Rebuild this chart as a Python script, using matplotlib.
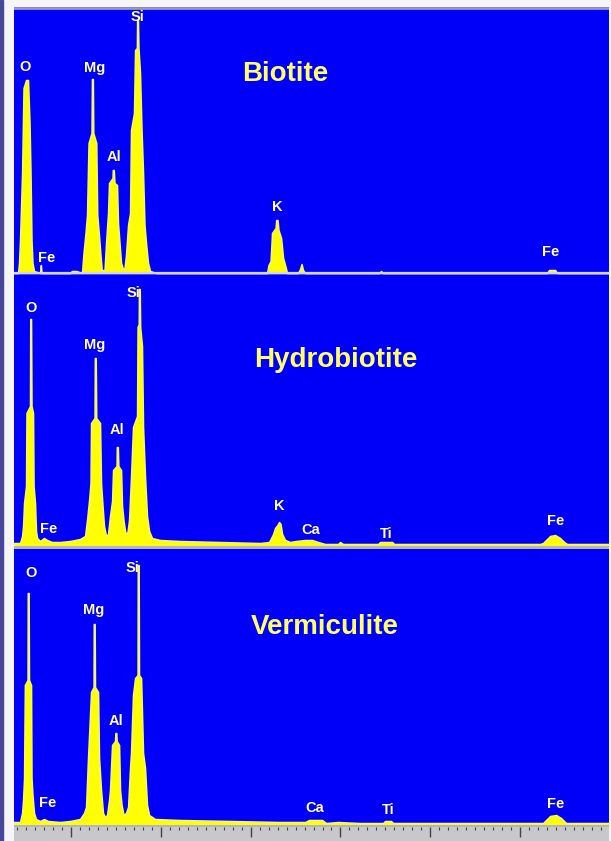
import matplotlib
matplotlib.use("Agg")
import matplotlib.pyplot as plt
from matplotlib.ticker import MultipleLocator
from matplotlib.patches import Rectangle

# EDS spectra, energy in keV, counts in arbitrary units
biotite = [
    (0.365, 0), (0.410, 0), (0.421, 10), (0.432, 33), (0.455, 100), (0.471, 185),
    (0.499, 193), (0.521, 193), (0.538, 150), (0.549, 100), (0.560, 33), (0.571, 10),
    (0.588, 2), (0.655, 0), (0.664, 8), (0.672, 0), (0.990, 0), (1.010, 2), (1.060, 2),
    (1.122, 0), (1.139, 20), (1.161, 40), (1.178, 58), (1.195, 130), (1.228, 140),
    (1.233, 194), (1.243, 194), (1.248, 140), (1.281, 130), (1.292, 58), (1.309, 40),
    (1.326, 20), (1.342, 3), (1.373, 3), (1.390, 30), (1.412, 60), (1.423, 90),
    (1.462, 95), (1.465, 103), (1.476, 103), (1.484, 90), (1.512, 88), (1.523, 50),
    (1.540, 30), (1.557, 10), (1.579, 4), (1.596, 5), (1.612, 18), (1.635, 48),
    (1.657, 60), (1.668, 143), (1.701, 160), (1.713, 223), (1.733, 225), (1.736, 253),
    (1.745, 253), (1.751, 225), (1.768, 200), (1.785, 143), (1.802, 100), (1.818, 48),
    (1.835, 30), (1.857, 10), (1.880, 2), (1.950, 0), (3.183, 0), (3.199, 8),
    (3.222, 12), (3.238, 40), (3.277, 45), (3.285, 53), (3.299, 53), (3.310, 43),
    (3.339, 35), (3.361, 15), (3.389, 6), (3.405, 0), (3.528, 0), (3.550, 4),
    (3.567, 9), (3.583, 3), (3.606, 0), (4.430, 0), (4.452, 2), (4.474, 0),
    (6.300, 0), (6.323, 3), (6.390, 3), (6.412, 0), (6.990, 0),
]

hydrobiotite = [
    (0.365, 3), (0.432, 3), (0.455, 10), (0.466, 20), (0.477, 43), (0.499, 60),
    (0.504, 133), (0.543, 140), (0.546, 227), (0.555, 227), (0.560, 140), (0.577, 133),
    (0.583, 60), (0.599, 43), (0.610, 15), (0.622, 8), (0.655, 5), (0.699, 8),
    (0.733, 6), (0.788, 4), (0.878, 4), (0.989, 5), (1.100, 7), (1.156, 10),
    (1.178, 26), (1.200, 45), (1.217, 63), (1.223, 123), (1.262, 128), (1.265, 188),
    (1.275, 188), (1.281, 128), (1.323, 123), (1.334, 63), (1.351, 40), (1.367, 20),
    (1.390, 10), (1.412, 12), (1.434, 30), (1.457, 45), (1.468, 76), (1.507, 80),
    (1.510, 99), (1.521, 99), (1.527, 80), (1.557, 76), (1.568, 40), (1.585, 25),
    (1.607, 12), (1.629, 14), (1.646, 26), (1.668, 69), (1.690, 119), (1.735, 130),
    (1.741, 219), (1.754, 222), (1.756, 257), (1.765, 257), (1.770, 219), (1.790, 200),
    (1.802, 119), (1.824, 69), (1.846, 30), (1.869, 15), (1.902, 8), (1.991, 6),
    (2.214, 5), (2.659, 4), (3.105, 3), (3.205, 4), (3.228, 8), (3.250, 12),
    (3.272, 18), (3.305, 22), (3.316, 24), (3.333, 22), (3.350, 12), (3.383, 6),
    (3.439, 4), (3.506, 5), (3.606, 6), (3.684, 6), (3.751, 4), (3.829, 2),
    (3.973, 2), (3.996, 4), (4.029, 2), (4.218, 2), (4.419, 2), (4.441, 4),
    (4.575, 4), (4.597, 2), (5.220, 2), (6.223, 2), (6.256, 3), (6.289, 6),
    (6.334, 10), (6.390, 11), (6.445, 8), (6.490, 4), (6.523, 2), (6.990, 2),
]

vermiculite = [
    (0.365, 3), (0.432, 3), (0.455, 12), (0.466, 25), (0.477, 47), (0.486, 140),
    (0.516, 145), (0.518, 232), (0.528, 232), (0.532, 145), (0.555, 140), (0.560, 47),
    (0.571, 30), (0.588, 12), (0.610, 6), (0.655, 4), (0.699, 6), (0.744, 4),
    (0.878, 3), (0.989, 4), (1.100, 6), (1.145, 12), (1.167, 18), (1.189, 67),
    (1.223, 133), (1.251, 138), (1.253, 201), (1.263, 201), (1.267, 138), (1.301, 133),
    (1.312, 67), (1.334, 35), (1.356, 12), (1.379, 8), (1.401, 10), (1.423, 25),
    (1.434, 35), (1.457, 80), (1.490, 84), (1.494, 92), (1.504, 92), (1.508, 84),
    (1.535, 80), (1.546, 35), (1.563, 20), (1.585, 10), (1.612, 12), (1.635, 18),
    (1.657, 57), (1.668, 72), (1.690, 130), (1.713, 147), (1.741, 150), (1.743, 260),
    (1.753, 260), (1.757, 150), (1.780, 147), (1.802, 72), (1.824, 57), (1.846, 20),
    (1.869, 10), (1.935, 6), (2.214, 5), (2.771, 4), (3.327, 3), (3.606, 3),
    (3.650, 5), (3.795, 5), (3.840, 2), (3.973, 3), (4.218, 2), (4.474, 2),
    (4.497, 4), (4.563, 4), (4.586, 2), (5.220, 2), (6.256, 2), (6.289, 5),
    (6.334, 9), (6.401, 10), (6.456, 7), (6.512, 2), (6.990, 2),
]

# element labels: (text, keV, height)
biotite_labels = [("O", 0.488, 206), ("Fe", 0.733, 15), ("Mg", 1.267, 205),
                  ("Al", 1.479, 116), ("Si", 1.735, 256), ("K", 3.294, 66),
                  ("Fe", 6.345, 21)]
hydrobiotite_labels = [("O", 0.555, 238), ("Fe", 0.755, 17), ("Mg", 1.267, 201),
                       ("Al", 1.512, 116), ("Si", 1.69, 253), ("K", 3.316, 40),
                       ("Ca", 3.673, 16), ("Ti", 4.508, 12), ("Fe", 6.40, 25)]
vermiculite_labels = [("O", 0.555, 252), ("Fe", 0.744, 22), ("Mg", 1.256, 215),
                      ("Al", 1.50, 104), ("Si", 1.68, 257), ("Ca", 3.717, 17),
                      ("Ti", 4.53, 15), ("Fe", 6.40, 21)]

titles = ["Biotite", "Hydrobiotite", "Vermiculite"]
title_pos = [(3.383, 199), (3.95, 186), (3.83, 198)]

W, H = 611, 841
BLUE = "#0000fa"
YELLOW = "#ffff00"
LABEL = "#ffffa8"
FONT = "Liberation Sans"


def rect(x0, y0, x1, y1):
    return [x0 / W, 1 - y1 / H, (x1 - x0) / W, (y1 - y0) / H]


fig = plt.figure(figsize=(W / 100, H / 100), dpi=100)
fig.patch.set_facecolor("#f6f6fa")
fig.patches.append(Rectangle((0, 0), 3 / W, 1, transform=fig.transFigure,
                             color="#46469a", zorder=0))

panels = [
    (biotite, biotite_labels, (14, 7, 609, 276), (-3, 266)),
    (hydrobiotite, hydrobiotite_labels, (14, 276, 609, 549), (-3, 270)),
    (vermiculite, vermiculite_labels, (14, 549, 609, 827), (-2, 276)),
]

for i, (spec, labels, box, ylim) in enumerate(panels):
    ax = fig.add_axes(rect(*box))
    ax.set_facecolor(BLUE)
    ax.set_xlim(0.365, 6.99)
    ax.set_ylim(*ylim)
    for s in ax.spines.values():
        s.set_visible(False)
    ax.set_xticks([])
    ax.set_yticks([])
    e = [p[0] for p in spec]
    c = [p[1] for p in spec]
    ax.fill_between(e, 0, c, color=YELLOW, lw=1.1, edgecolor="#f8f860", zorder=2)
    if i == 0:
        ax.axhline(0, color="#d4d4f4", lw=1.6, zorder=3)
        ax.axhline(ylim[1] - 0.5, color="#9a9ab8", lw=2, zorder=3)
    else:
        ax.axhline(-0.5, color="#b4b4bc", lw=2.2, zorder=3)
        ax.set_xticks([x / 10 for x in range(4, 70)])
        ax.tick_params(axis="x", direction="in", length=2, width=0.8,
                       color="#505060", labelbottom=False, pad=0)
    for txt, x, y in labels:
        ax.text(x, y, txt, color=LABEL, fontsize=10.5, fontweight="bold",
                family=FONT, ha="center", va="center", zorder=4)
    tx, ty = title_pos[i]
    ax.text(tx, ty, titles[i], color="#ffff66", fontsize=20, fontweight="bold",
            family=FONT, ha="center", va="center", zorder=4)

# bottom energy axis strip
axb = fig.add_axes(rect(14, 827, 609, 841))
axb.set_facecolor("#c8c8cc")
axb.set_xlim(0.365, 6.99)
axb.set_ylim(0, 1)
for s in axb.spines.values():
    s.set_visible(False)
axb.set_yticks([])
axb.xaxis.set_major_locator(MultipleLocator(1))
axb.xaxis.set_minor_locator(MultipleLocator(0.1))
axb.tick_params(axis="x", which="both", top=True, bottom=False, direction="in",
                labelbottom=False, color="#404048")
axb.tick_params(axis="x", which="major", length=7, width=1)
axb.tick_params(axis="x", which="minor", length=2, width=0.8)

fig.savefig("out.png", dpi=100, facecolor=fig.get_facecolor())
